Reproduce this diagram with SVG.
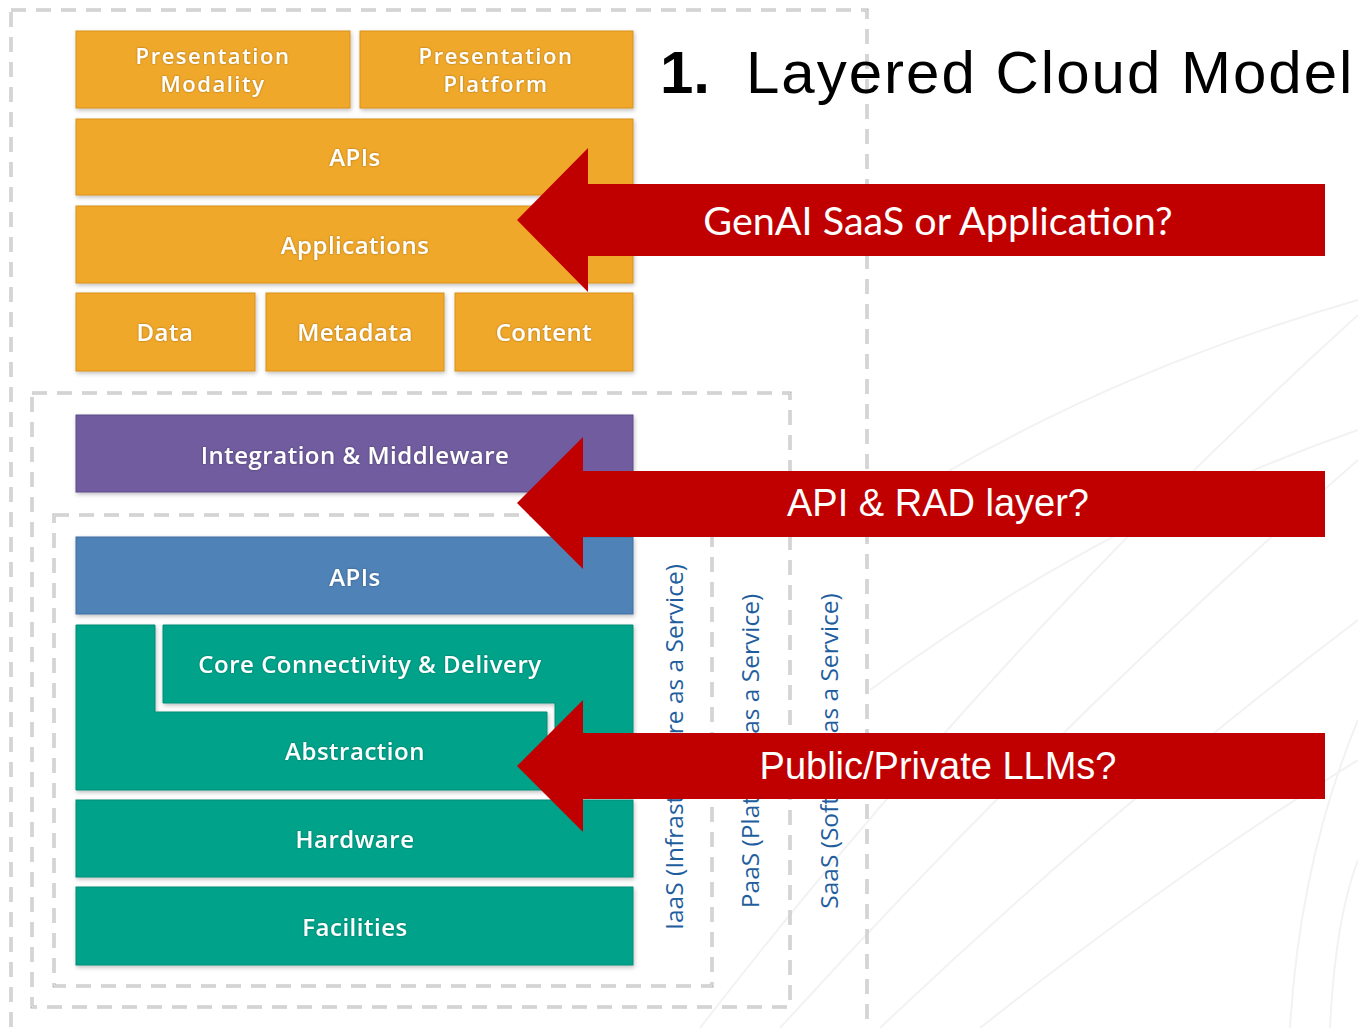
<svg xmlns="http://www.w3.org/2000/svg" width="1358" height="1028" viewBox="0 0 1358 1028">
<defs>
<filter id="sh" x="-5%" y="-10%" width="110%" height="130%">
<feDropShadow dx="1" dy="2" stdDeviation="2" flood-color="#000" flood-opacity="0.25"/>
</filter>
<filter id="tg" x="-10%" y="-30%" width="120%" height="160%">
<feDropShadow dx="0" dy="0" stdDeviation="1.2" flood-color="#000" flood-opacity="0.35"/>
</filter>
</defs>
<style>
.bg{fill:none;stroke:#f2f2f2;stroke-width:2}
.dash{fill:none;stroke:#b4b4b4;stroke-width:3;stroke-dasharray:15 10}
.dashin{fill:none;stroke:#f4f4f4;stroke-width:1;stroke-dasharray:15 10}
.org{fill:#F0A82C;stroke:#D8921A;stroke-width:1}
.pur{fill:#6F5B9E;stroke:#5D4A8A;stroke-width:1}
.blu{fill:#4F82B7;stroke:#3F6FA2;stroke-width:1}
.tea{fill:#03A38A;stroke:#028C76;stroke-width:1}
.lbl{font-family:"Open Sans","DejaVu Sans",sans-serif;font-weight:600;font-size:24px;letter-spacing:0.5px;fill:#fff;text-anchor:middle}
.lbl2{font-family:"Open Sans","DejaVu Sans",sans-serif;font-weight:600;font-size:22px;letter-spacing:1.5px;fill:#fff;text-anchor:middle}
.vl{font-family:"Open Sans","DejaVu Sans",sans-serif;font-size:24.5px;fill:#1F5E9E;text-anchor:middle}
.arr{fill:#C00000}
.at{font-family:"Liberation Sans",Arial,sans-serif;font-size:38px;fill:#fff;text-anchor:middle}
.at2{font-family:"Lato","Open Sans",sans-serif;font-size:39.5px;fill:#fff;text-anchor:middle}
</style>
<rect width="1358" height="1028" fill="#fff"/>
<g id="background">
<path class="bg" d="M700 1028 Q1000 640 1358 315"/>
<path class="bg" d="M780 1028 Q1060 720 1358 460"/>
<path class="bg" d="M880 1028 Q1120 800 1358 620"/>
<path class="bg" d="M980 1028 Q1180 870 1358 760"/>
<path class="bg" d="M870 520 Q1080 380 1358 300"/>
<path class="bg" d="M870 690 Q1100 520 1358 430"/>
<path class="bg" d="M1290 1028 Q1300 860 1358 720"/>
<path class="bg" d="M1330 1028 Q1335 920 1358 860"/>
</g>
<g id="frames">
<rect class="dash" x="11" y="10" width="856" height="1040"/>
<rect class="dashin" x="11" y="10" width="856" height="1040"/>
<rect class="dash" x="32" y="393" width="758" height="614"/>
<rect class="dashin" x="32" y="393" width="758" height="614"/>
<rect class="dash" x="54" y="515" width="658" height="471"/>
<rect class="dashin" x="54" y="515" width="658" height="471"/>
</g>
<g id="title" font-family="Liberation Sans,Arial,sans-serif" fill="#000">
<text x="660" y="93" font-size="60" font-weight="bold">1.</text>
<text x="746" y="93" font-size="60" letter-spacing="2">Layered Cloud Model</text>
</g>
<g id="presentation-modality"><rect class="org" filter="url(#sh)" x="76" y="31" width="274" height="77"/><text class="lbl2" filter="url(#tg)" x="213" y="64">Presentation</text><text class="lbl2" filter="url(#tg)" x="213" y="92">Modality</text></g>
<g id="presentation-platform"><rect class="org" filter="url(#sh)" x="360" y="31" width="273" height="77"/><text class="lbl2" filter="url(#tg)" x="496" y="64">Presentation</text><text class="lbl2" filter="url(#tg)" x="496" y="92">Platform</text></g>
<g id="apis-top"><rect class="org" filter="url(#sh)" x="76" y="119" width="557" height="76"/><text class="lbl" filter="url(#tg)" x="355" y="166">APIs</text></g>
<g id="applications"><rect class="org" filter="url(#sh)" x="76" y="206" width="557" height="77"/><text class="lbl" filter="url(#tg)" x="355" y="254">Applications</text></g>
<g id="data"><rect class="org" filter="url(#sh)" x="76" y="293" width="179" height="78"/><text class="lbl" filter="url(#tg)" x="165" y="341">Data</text></g>
<g id="metadata"><rect class="org" filter="url(#sh)" x="266" y="293" width="178" height="78"/><text class="lbl" filter="url(#tg)" x="355" y="341">Metadata</text></g>
<g id="content"><rect class="org" filter="url(#sh)" x="455" y="293" width="178" height="78"/><text class="lbl" filter="url(#tg)" x="544" y="341">Content</text></g>
<g id="integration-middleware"><rect class="pur" filter="url(#sh)" x="76" y="415" width="557" height="77"/><text class="lbl" filter="url(#tg)" x="355" y="464">Integration &amp; Middleware</text></g>
<g id="apis-blue"><rect class="blu" filter="url(#sh)" x="76" y="537" width="557" height="77"/><text class="lbl" filter="url(#tg)" x="355" y="586">APIs</text></g>
<g id="core-connectivity"><path class="tea" filter="url(#sh)" d="M163 625 H633 V790 H555 V703 H163 Z"/><text class="lbl" filter="url(#tg)" x="370" y="673">Core Connectivity &amp; Delivery</text></g>
<g id="abstraction"><path class="tea" filter="url(#sh)" d="M76 625 H155 V712 H547 V790 H76 Z"/><text class="lbl" filter="url(#tg)" x="355" y="760">Abstraction</text></g>
<g id="hardware"><rect class="tea" filter="url(#sh)" x="76" y="800" width="557" height="77"/><text class="lbl" filter="url(#tg)" x="355" y="848">Hardware</text></g>
<g id="facilities"><rect class="tea" filter="url(#sh)" x="76" y="887" width="557" height="78"/><text class="lbl" filter="url(#tg)" x="355" y="936">Facilities</text></g>
<g id="service-labels">
<text class="vl" transform="translate(683,747) rotate(-90)">IaaS (Infrastructure as a Service)</text>
<text class="vl" transform="translate(759,751) rotate(-90)">PaaS (Platform as a Service)</text>
<text class="vl" transform="translate(838,751) rotate(-90)">SaaS (Software as a Service)</text>
</g>
<g id="connectors">
<g id="callout-genai"><polygon class="arr" points="517,220 588,148 588,184 1325,184 1325,256 588,256 588,292"/><text class="at2" x="938" y="235">GenAI SaaS or Application?</text></g>
<g id="callout-api"><polygon class="arr" points="517,503 583,437 583,471 1325,471 1325,537 583,537 583,569"/><text class="at" x="938" y="516">API &amp; RAD layer?</text></g>
<g id="callout-llm"><polygon class="arr" points="517,766 583,700 583,733 1325,733 1325,799 583,799 583,832"/><text class="at" x="938" y="779">Public/Private LLMs?</text></g>
</g>
</svg>
